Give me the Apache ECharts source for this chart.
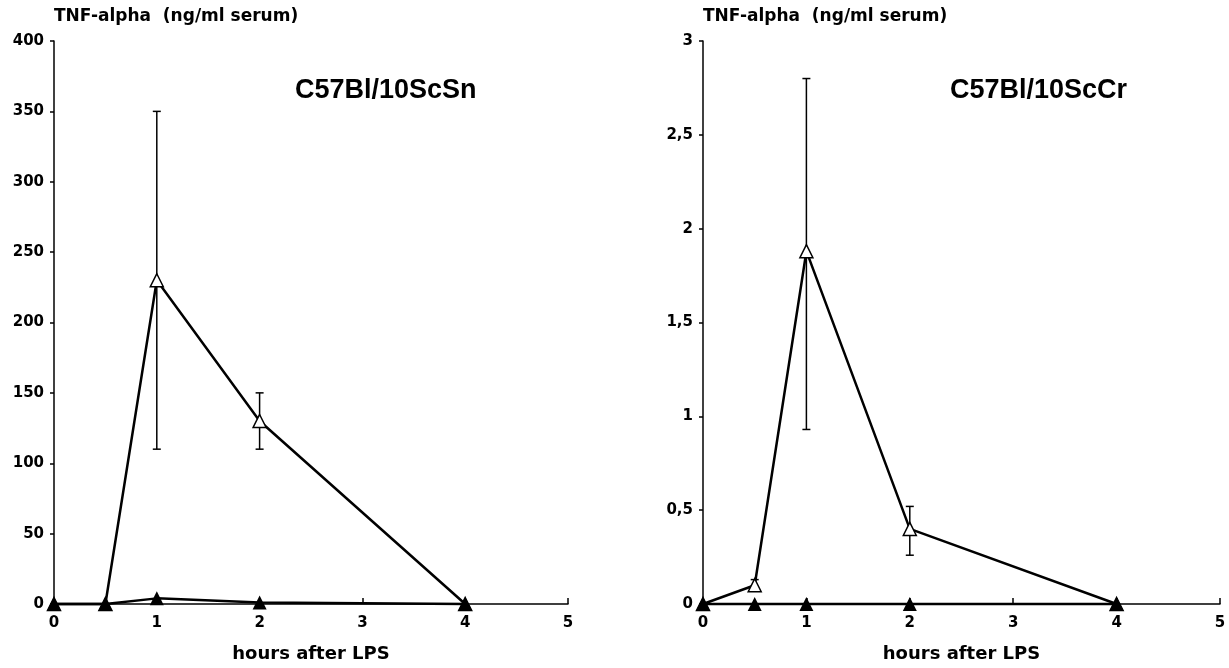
<!DOCTYPE html>
<html>
<head>
<meta charset="utf-8">
<script src="https://cdn.jsdelivr.net/npm/echarts@6/dist/echarts.min.js"></script>
<style>
  html, body { margin: 0; padding: 0; background: #fff; }
  #chart { width: 1229px; height: 668px; }
</style>
</head>
<body>
<div id="chart"></div>
<script>
// hours after LPS
var hours = [0, 0.5, 1, 2, 4];

// C57Bl/10ScSn (ng/ml serum)
var snOpen = [0, 0, 230, 130, 0];
var snFilled = [0, 0, 4, 1, 0];
var snErrLow = [null, null, 110, 110, null];
var snErrHigh = [null, null, 350, 150, null];

// C57Bl/10ScCr
var crOpen = [0, 0.1, 1.88, 0.4, 0];
var crFilled = [0, 0, 0, 0, 0];
var crErrLow = [null, 0.08, 0.93, 0.26, null];
var crErrHigh = [null, 0.13, 2.8, 0.52, null];

var titles = ['C57Bl/10ScSn', 'C57Bl/10ScCr'];
var yName = 'TNF-alpha  (ng/ml serum)';
var xName = 'hours after LPS';

function pairs(ys) {
    return hours.map(function (h, i) { return [h, ys[i]]; });
}
function errData(lo, hi) {
    var out = [];
    hours.forEach(function (h, i) {
        if (lo[i] != null) out.push([h, lo[i], hi[i]]);
    });
    return out;
}
function renderErr(params, api) {
    var x = api.value(0);
    var lo = api.coord([x, api.value(1)]);
    var hi = api.coord([x, api.value(2)]);
    var w = 4;
    var st = { stroke: '#000', lineWidth: 1.5 };
    return {
        type: 'group',
        children: [
            { type: 'line', shape: { x1: lo[0], y1: lo[1], x2: hi[0], y2: hi[1] }, style: st },
            { type: 'line', shape: { x1: lo[0] - w, y1: lo[1], x2: lo[0] + w, y2: lo[1] }, style: st },
            { type: 'line', shape: { x1: hi[0] - w, y1: hi[1], x2: hi[0] + w, y2: hi[1] }, style: st }
        ]
    };
}

var font = 'DejaVu Sans';
var labelStyle = { color: '#000', fontFamily: font, fontWeight: 'bold', fontSize: 15 };

function xAxis(idx) {
    return {
        type: 'value', gridIndex: idx, min: 0, max: 5, interval: 1,
        name: xName, nameLocation: 'middle', nameGap: 41,
        nameTextStyle: { color: '#000', fontFamily: font, fontWeight: 'bold', fontSize: 18 },
        axisLine: { lineStyle: { color: '#000', width: 1.5 } },
        axisTick: { inside: true, length: 6, lineStyle: { color: '#000', width: 1.5 } },
        axisLabel: Object.assign({ margin: 12 }, labelStyle),
        splitLine: { show: false }
    };
}
function yAxis(idx, max, interval, fmt) {
    return {
        type: 'value', gridIndex: idx, min: 0, max: max, interval: interval,
        name: yName, nameLocation: 'end', nameGap: 16,
        nameTextStyle: { color: '#000', fontFamily: font, fontWeight: 'bold', fontSize: 17, align: 'left' },
        axisLine: { show: true, lineStyle: { color: '#000', width: 1.5 } },
        axisTick: { show: true, length: 4, lineStyle: { color: '#000', width: 1.5 } },
        axisLabel: Object.assign({ margin: 10, formatter: fmt }, labelStyle),
        splitLine: { show: false }
    };
}

function lineSeries(idx, data, open) {
    return {
        type: 'line', xAxisIndex: idx, yAxisIndex: idx,
        data: pairs(data), clip: false, z: open ? 3 : 4,
        symbol: 'triangle', symbolSize: open ? 13 : 14,
        lineStyle: { color: '#000', width: 2.5 },
        itemStyle: open ? { color: '#fff', borderColor: '#000', borderWidth: 1.5 } : { color: '#000' }
    };
}
function errSeries(idx, lo, hi) {
    return {
        type: 'custom', xAxisIndex: idx, yAxisIndex: idx, z: 2,
        renderItem: renderErr, data: errData(lo, hi), clip: false
    };
}

var titleStyle = { color: '#000', fontFamily: 'Liberation Sans', fontWeight: 'bold', fontSize: 27 };
var chart = echarts.init(document.getElementById('chart'));
chart.setOption({
    backgroundColor: '#fff',
    animation: false,
    title: [
        { text: titles[0], left: 290, top: 72, textStyle: titleStyle },
        { text: titles[1], left: 945, top: 72, textStyle: titleStyle }
    ],
    grid: [
        { left: 54, right: 661, top: 41, bottom: 60 },
        { left: 703, right: 9, top: 41, bottom: 60 }
    ],
    xAxis: [xAxis(0), xAxis(1)],
    yAxis: [
        yAxis(0, 400, 50, function (v) { return String(v); }),
        yAxis(1, 3, 0.5, function (v) { return String(v).replace('.', ','); })
    ],
    series: [
        errSeries(0, snErrLow, snErrHigh),
        lineSeries(0, snOpen, true),
        lineSeries(0, snFilled, false),
        errSeries(1, crErrLow, crErrHigh),
        lineSeries(1, crOpen, true),
        lineSeries(1, crFilled, false)
    ]
});
</script>
</body>
</html>
